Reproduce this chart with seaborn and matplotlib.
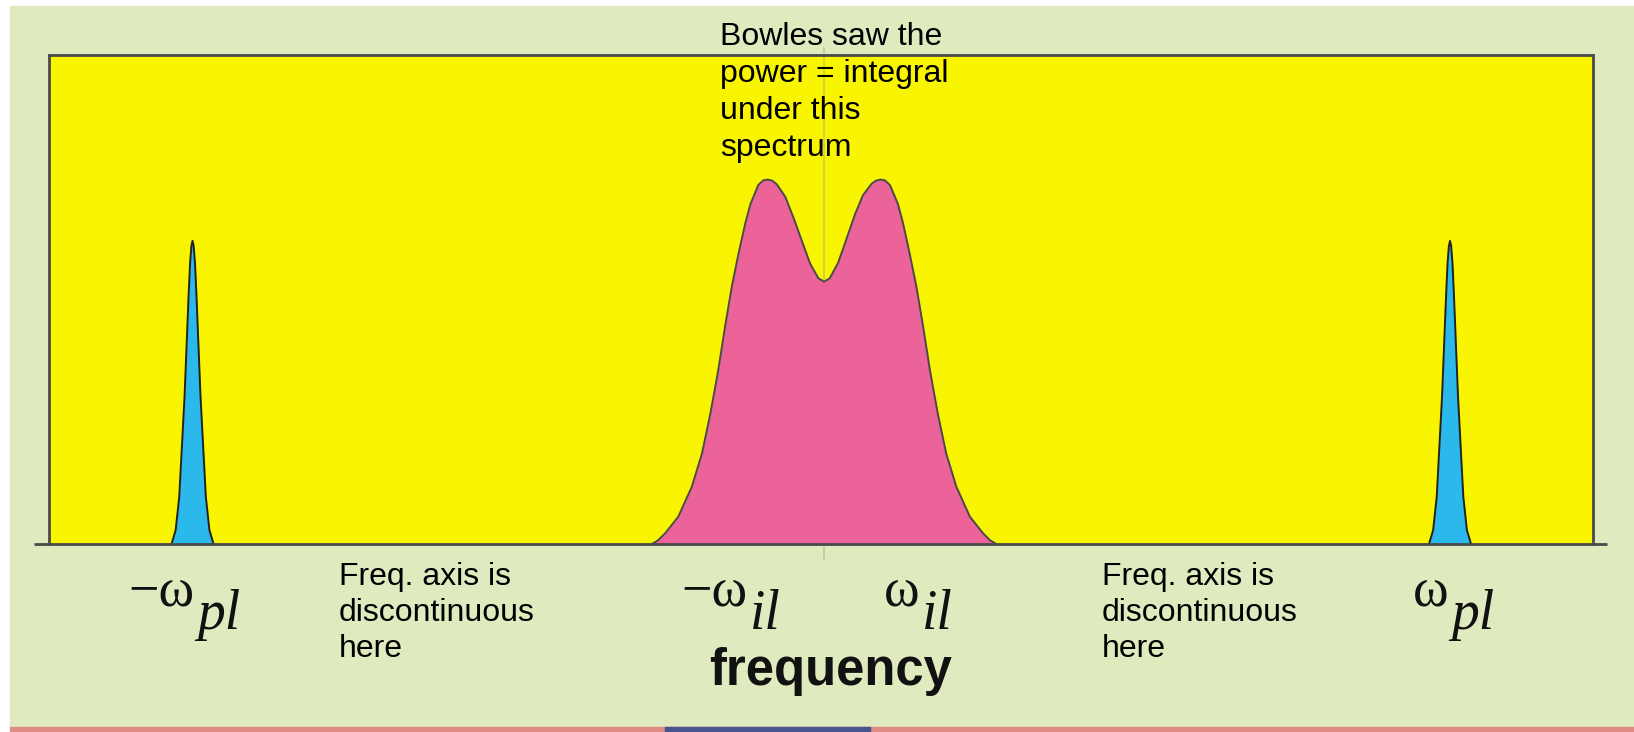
import numpy as np
import matplotlib
matplotlib.use("Agg")
import matplotlib.pyplot as plt
from matplotlib.patches import Rectangle
import seaborn as sns

# spectrum (x in units of omega_il, y relative to ion-line peak)
pink_x = [-3.06, -2.95, -2.82, -2.59, -2.35, -2.17, -2.02, -1.88, -1.76, -1.64,
          -1.52, -1.40, -1.31, -1.17, -1.08, -1.00, -0.92, -0.84, -0.69, -0.55,
          -0.40, -0.25, -0.10, 0.00,
          0.10, 0.25, 0.40, 0.55, 0.69, 0.84, 0.92, 1.00, 1.08, 1.17,
          1.31, 1.40, 1.52, 1.64, 1.76, 1.88, 2.02, 2.17, 2.35, 2.59,
          2.82, 2.95, 3.06]
pink_y = [0.000, 0.010, 0.030, 0.075, 0.157, 0.248, 0.358, 0.477, 0.596, 0.706,
          0.797, 0.880, 0.932, 0.985, 0.998, 1.000, 0.997, 0.987, 0.953, 0.898,
          0.834, 0.770, 0.729, 0.720,
          0.729, 0.772, 0.838, 0.905, 0.957, 0.988, 0.997, 1.000, 0.998, 0.985,
          0.934, 0.882, 0.797, 0.706, 0.596, 0.477, 0.358, 0.248, 0.157, 0.075,
          0.030, 0.010, 0.000]

# plasma lines: centre positions and the peak profile around each
blue_centers = [-11.22, 11.12]
blue_dx = [-0.373, -0.30, -0.236, -0.142, -0.071, -0.044, -0.02, 0.0,
           0.02, 0.044, 0.071, 0.142, 0.236, 0.30, 0.373]
blue_y = [0.0, 0.038, 0.130, 0.404, 0.678, 0.770, 0.818, 0.832,
          0.818, 0.770, 0.678, 0.404, 0.130, 0.038, 0.0]

label_x = [-11.19, -1.36, 1.69, 11.10]
label_main = ["\u2212\u03c9", "\u2212\u03c9", "\u03c9", "\u03c9"]
label_sub = ["pl", "il", "il", "pl"]

note_text = "Freq. axis is\ndiscontinuous\nhere"
bowles_text = "Bowles saw the\npower = integral\nunder this\nspectrum"

W, H = 1634, 732
GREEN = "#dfeabf"
YELLOW = "#f9f500"
PINK = "#eb6399"
BLUE = "#2bb8ea"
EDGE = "#4a4a4a"

sns.set_theme(style="white")
plt.rcParams["font.family"] = ["Liberation Sans", "DejaVu Sans"]


def fx(px):
    return px / W


def fy(py):
    return 1 - py / H


fig = plt.figure(figsize=(W / 100, H / 100), dpi=100, facecolor="white")
fig.patches.append(Rectangle((fx(10), fy(727)), 1 - fx(10), fy(6) - fy(727),
                             transform=fig.transFigure, color=GREEN, zorder=-5))
# thin strip at the very bottom
fig.patches.append(Rectangle((fx(10), 0), 1 - fx(10), fy(727),
                             transform=fig.transFigure, color="#df8c86", zorder=-5))
fig.patches.append(Rectangle((fx(665), 0), fx(870) - fx(665), fy(727),
                             transform=fig.transFigure, color="#48548f", zorder=-5))

ax = fig.add_axes([fx(49), fy(544), fx(1593) - fx(49), fy(55) - fy(544)])
ax.set_facecolor(YELLOW)
ax.set_xlim(-13.77, 13.66)
ax.set_ylim(0, 1.342)

# faint centre marker, runs a little past the frame
ax.plot([0, 0], [-0.044, 1.361], color="#a8a88c", alpha=0.5, lw=1.3,
        clip_on=False, zorder=1)

ax.fill_between(pink_x, pink_y, color=PINK, lw=0, zorder=2)
sns.lineplot(x=pink_x, y=pink_y, color=EDGE, lw=1.4, ax=ax, zorder=3)

for c in blue_centers:
    bx = [c + d for d in blue_dx]
    ax.fill_between(bx, blue_y, color=BLUE, lw=0, zorder=2)
    sns.lineplot(x=bx, y=blue_y, color="#222222", lw=1.4, ax=ax, zorder=3)

# baseline sticks out past the frame on both sides
ax.plot([-14.03, 13.91], [0, 0], color=EDGE, lw=2.0, clip_on=False, zorder=4,
        solid_capstyle="butt")

for side in ["left", "top", "right"]:
    ax.spines[side].set_color(EDGE)
    ax.spines[side].set_linewidth(2.0)
ax.spines["bottom"].set_visible(False)
ax.set_xticks([])
ax.set_yticks([])
ax.set_xlabel("")
ax.set_ylabel("")

serif = ["Liberation Serif", "DejaVu Serif"]
trans = ax.get_xaxis_transform()
for x, m, s in zip(label_x, label_main, label_sub):
    ax.text(x, -0.1285, m, transform=trans, ha="right", va="baseline",
            fontsize=39, family=serif, color="#111111")
    ax.text(x + 0.05, -0.1735, s, transform=trans, ha="left", va="baseline",
            fontsize=40, family=serif, style="italic", color="#111111")

fig.text(fx(831), fy(647), "frequency", ha="center", va="top",
         fontsize=36.5, fontweight="bold", color="#111111")
fig.text(fx(339), fy(562), note_text, ha="left", va="top", fontsize=23,
         linespacing=1.27, color="black")
fig.text(fx(1102), fy(562), note_text, ha="left", va="top", fontsize=23,
         linespacing=1.27, color="black")
fig.text(fx(720), fy(22), bowles_text, ha="left", va="top", fontsize=23,
         linespacing=1.3, color="black", zorder=10)

fig.savefig("out.png", dpi=100, facecolor="white")
